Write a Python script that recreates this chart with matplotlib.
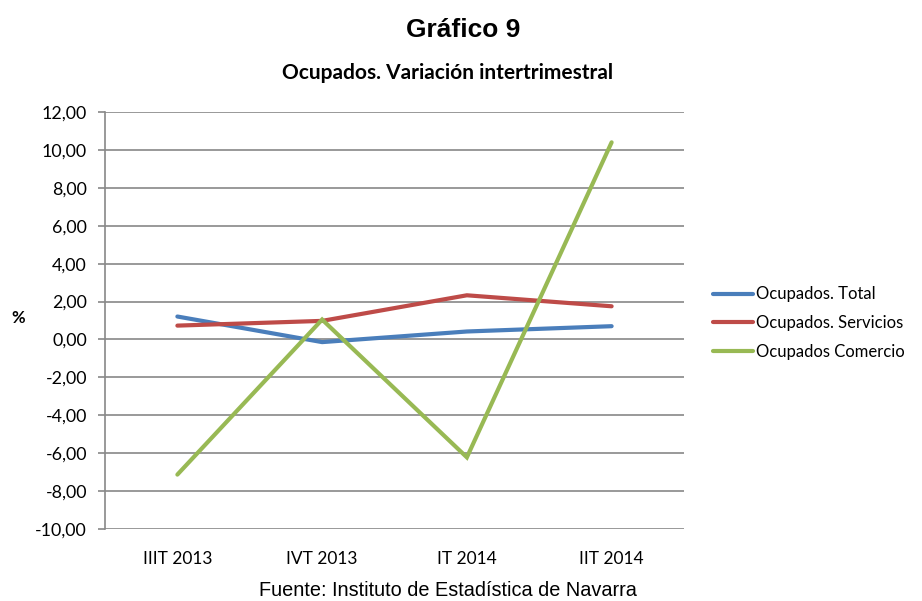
# Gráfico 9 - Ocupados. Variación intertrimestral

import matplotlib.pyplot as plt
from matplotlib.ticker import FuncFormatter

# Datos ======================================================================

trimestres = ['IIIT 2013', 'IVT 2013', 'IT 2014', 'IIT 2014']
total = [1.21, -0.14, 0.42, 0.70]
servicios = [0.73, 0.98, 2.33, 1.75]
comercio = [-7.13, 1.05, -6.22, 10.40]

series = ['Ocupados. Total', 'Ocupados. Servicios', 'Ocupados Comercio']
colores = ['#4a7ebb', '#be4b48', '#98b954']

# Figura =====================================================================

fig = plt.figure(figsize=(9.22, 6.01), dpi=100)
ax = fig.add_axes([105/922, 1-529/601, 579/922, 417/601])

x = range(len(trimestres))
for datos, nombre, c in zip([total, servicios, comercio], series, colores):
    ax.plot(x, datos, color=c, linewidth=3.0, label=nombre,
            solid_capstyle='round', solid_joinstyle='miter')

ax.set_xlim(-0.5, len(trimestres) - 0.5)
ax.set_ylim(-10, 12)
ax.set_yticks(range(-10, 13, 2))
ax.yaxis.set_major_formatter(FuncFormatter(lambda v, p: f'{v:.2f}'.replace('.', ',')))
ax.set_xticks(list(x))
ax.set_xticklabels(trimestres)

ax.grid(axis='y', color='#888888', linewidth=1.2)
ax.set_axisbelow(True)
for s in ['top', 'right', 'bottom']:
    ax.spines[s].set_visible(False)
ax.spines['left'].set_color('#888888')
ax.spines['left'].set_linewidth(1.2)
ax.tick_params(axis='y', direction='out', length=5, color='#888888', width=1.2,
               labelsize=12.8, pad=8)
ax.tick_params(axis='x', length=0, labelsize=12.5, pad=16)
for lab in ax.get_xticklabels() + ax.get_yticklabels():
    lab.set_family('Lato')

fig.text(463/922, 1-37/601, 'Gráfico 9', ha='center', va='baseline',
         fontsize=19, fontweight='bold', family='Liberation Sans')
fig.text(448/922, 1-79/601, 'Ocupados. Variación intertrimestral', ha='center',
         va='baseline', fontsize=15, fontweight='bold', family='Lato')
fig.text(18/922, 1-318/601, '%', ha='center', va='center', fontsize=12,
         fontweight='bold', family='Lato')
fig.text(448/922, 1-590/601, 'Fuente: Instituto de Estadística de Navarra',
         ha='center', va='center', fontsize=14.3, family='Liberation Sans')

fig.legend(loc='center left', bbox_to_anchor=(706/922, 1-323/601), frameon=False,
           prop={'family': 'Lato', 'size': 12}, handlelength=2.4,
           handletextpad=0.2, labelspacing=0.75, borderaxespad=0)

fig.savefig('out.png', dpi=100)
